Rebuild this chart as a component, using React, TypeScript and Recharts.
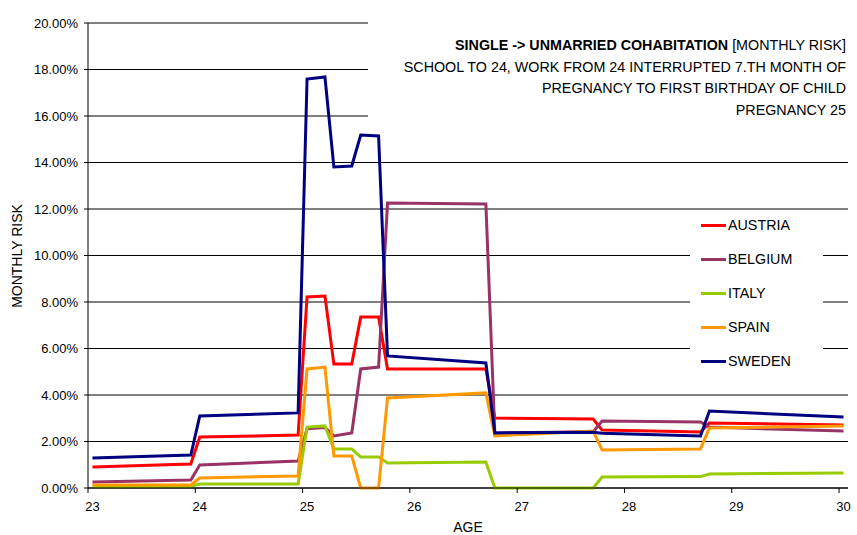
import React from "react"
import { LineChart, Line, XAxis, YAxis, CartesianGrid, Legend, Label } from "recharts"

// month index from age 23 (0) to age 30 (84); only the months where a series bends
const months = [0, 11, 12, 23, 24, 26, 27, 29, 30, 32, 33, 44, 45, 56, 57, 68, 69, 84]

const austria = [0.9, 1.03, 2.19, 2.28, 8.22, 8.26, 5.33, 5.33, 7.35, 7.35, 5.12, 5.12, 3.01, 2.97, 2.49, 2.41, 2.8, 2.71]
const belgium = [0.26, 0.34, 0.99, 1.16, 2.55, 2.6, 2.24, 2.37, 5.12, 5.2, 12.26, 12.22, 2.37, 2.42, 2.88, 2.84, 2.62, 2.45]
const italy = [0.05, 0.08, 0.17, 0.17, 2.62, 2.67, 1.68, 1.68, 1.33, 1.33, 1.08, 1.12, 0, 0, 0.47, 0.49, 0.6, 0.65]
const spain = [0.13, 0.13, 0.43, 0.52, 5.12, 5.2, 1.38, 1.38, 0, 0, 3.87, 4.09, 2.24, 2.45, 1.63, 1.68, 2.58, 2.67]
const sweden = [1.29, 1.42, 3.1, 3.23, 17.59, 17.68, 13.81, 13.85, 15.18, 15.14, 5.68, 5.38, 2.37, 2.4, 2.36, 2.24, 3.31, 3.05]

const ageTicks = [0, 12, 24, 36, 48, 60, 72, 84]
const riskTicks = [0, 2, 4, 6, 8, 10, 12, 14, 16, 18, 20]

const series = [
  { key: "austria", name: "AUSTRIA", color: "#FF0000" },
  { key: "belgium", name: "BELGIUM", color: "#993366" },
  { key: "italy", name: "ITALY", color: "#99CC00" },
  { key: "spain", name: "SPAIN", color: "#FF9900" },
  { key: "sweden", name: "SWEDEN", color: "#000080" },
]

const rows = months.map((m, i) => ({
  m,
  austria: austria[i],
  belgium: belgium[i],
  italy: italy[i],
  spain: spain[i],
  sweden: sweden[i],
}))

const W = 857
const H = 535
const LEFT = 88
const RIGHT = 9
const HALF = (W - LEFT - RIGHT) / 85 / 2
const FONT = "'Liberation Sans', Arial, sans-serif"

const XTick = (props: any) => {
  const { x, y, payload } = props
  return (
    <g>
      <line x1={x - HALF} y1={y} x2={x - HALF} y2={y + 5} stroke="#000" />
      <text x={x} y={y + 23} textAnchor="middle" fontSize={13} fill="#000" fontFamily={FONT}>
        {23 + payload.value / 12}
      </text>
    </g>
  )
}

const renderLegend = (props: any) => {
  const { payload } = props
  return (
    <div style={{ marginTop: -3 }}>
      {payload.map((entry: any) => (
        <div
          key={entry.value}
          style={{ display: "flex", alignItems: "center", height: 34, fontSize: 14.3, color: "#000" }}
        >
          <span style={{ display: "inline-block", width: 25, height: 3, background: entry.color, marginLeft: 11, marginRight: 2 }} />
          <span>{entry.value}</span>
        </div>
      ))}
    </div>
  )
}

export default function App() {
  return (
    <div style={{ position: "absolute", left: 0, top: 0, width: W, height: H, fontFamily: FONT, background: "#fff" }}>
      <LineChart width={W} height={H} data={rows} margin={{ top: 23, right: RIGHT, bottom: 17, left: 0 }}>
        <CartesianGrid vertical={false} stroke="#000" strokeWidth={1} />
        <XAxis
          dataKey="m"
          type="number"
          domain={[-0.5, 84.5]}
          ticks={ageTicks}
          interval={0}
          tick={<XTick />}
          tickLine={false}
          tickSize={0}
          tickMargin={0}
          height={30}
          axisLine={{ stroke: "#000" }}
        >
          <Label
            content={() => (
              <text x={468} y={532} textAnchor="middle" fontSize={14} fill="#000" fontFamily={FONT}>
                AGE
              </text>
            )}
          />
        </XAxis>
        <YAxis
          type="number"
          domain={[0, 20]}
          ticks={riskTicks}
          interval={0}
          width={LEFT}
          tickSize={4}
          tickMargin={6}
          tickFormatter={(v: number) => v.toFixed(2) + "%"}
          tick={{ fill: "#000", fontSize: 13, fontFamily: FONT }}
          tickLine={{ stroke: "#000" }}
          axisLine={{ stroke: "#000" }}
        >
          <Label
            content={() => (
              <text
                x={22}
                y={256}
                transform="rotate(-90 22 256)"
                textAnchor="middle"
                fontSize={14}
                fill="#000"
                fontFamily={FONT}
              >
                MONTHLY RISK
              </text>
            )}
          />
        </YAxis>
        {series.map((s) => (
          <Line
            key={s.key}
            type="linear"
            dataKey={s.key}
            name={s.name}
            stroke={s.color}
            strokeWidth={3}
            dot={false}
            activeDot={false}
            isAnimationActive={false}
          />
        ))}
        <Legend
          layout="vertical"
          align="center"
          verticalAlign="middle"
          content={renderLegend}
          wrapperStyle={{ left: 690, top: 211, width: 133, height: 170, background: "#fff", fontFamily: FONT }}
        />
      </LineChart>
      <div
        style={{
          position: "absolute",
          left: 368,
          top: 16,
          width: W - 368 - 11,
          paddingTop: 19,
          paddingRight: 11,
          paddingBottom: 4,
          background: "#fff",
          textAlign: "right",
          fontSize: 14.3,
          lineHeight: "21.7px",
          color: "#000",
          whiteSpace: "nowrap",
        }}
      >
        <b>SINGLE -&gt; UNMARRIED COHABITATION</b> [MONTHLY RISK]
        <br />
        SCHOOL TO 24, WORK FROM 24 INTERRUPTED 7.TH MONTH OF
        <br />
        PREGNANCY TO FIRST BIRTHDAY OF CHILD
        <br />
        PREGNANCY 25
      </div>
    </div>
  )
}
